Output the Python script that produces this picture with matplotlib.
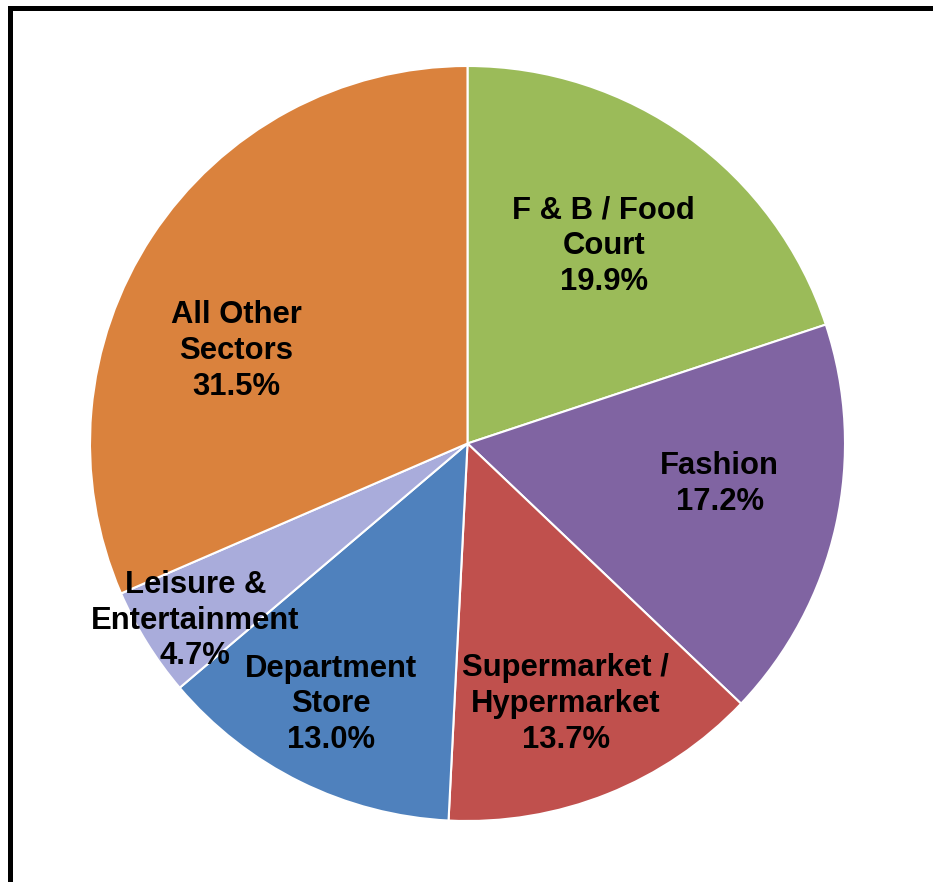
import numpy as np
import matplotlib
matplotlib.use("Agg")
import matplotlib.pyplot as plt
from matplotlib.patches import Rectangle

categories = ["F & B / Food\nCourt", "Fashion", "Supermarket /\nHypermarket",
              "Department\nStore", "Leisure &\nEntertainment", "All Other\nSectors"]
values = [19.9, 17.2, 13.7, 13.0, 4.7, 31.5]
colors = ["#9BBB59", "#8064A2", "#C0504D", "#4F81BD", "#A9ACDB", "#DA823D"]

# label placement (fraction of radius, angle offset in degrees)
label_dist = [0.635, 0.677, 0.737, 0.78, 0.86, 0.66]
label_dang = [1.2, 3.4, -1.1, -1.4, 1.2, 11.5]

W, H = 933, 882
fig = plt.figure(figsize=(W / 100, H / 100), dpi=100)
fig.patch.set_facecolor("white")

R_px = 377.5
cx, cy = 467.5, 443.5
ax = fig.add_axes([(cx - R_px) / W, (H - cy - R_px) / H, 2 * R_px / W, 2 * R_px / H])
wedges, _ = ax.pie(values, colors=colors, startangle=90, counterclock=False,
                   radius=1.0, wedgeprops=dict(edgecolor="white", linewidth=1.5))
ax.set_xlim(-1, 1)
ax.set_ylim(-1, 1)
ax.set_aspect("equal")
ax.axis("off")

for w, cat, v, d, da in zip(wedges, categories, values, label_dist, label_dang):
    ang = np.deg2rad((w.theta1 + w.theta2) / 2 + da)
    ax.text(d * np.cos(ang), d * np.sin(ang), f"{cat}\n{v:.1f}%",
            ha="center", va="center", fontsize=22.3, fontweight="bold",
            family="Liberation Sans", linespacing=1.25, color="black")

fig.add_artist(Rectangle((9.5 / W, -0.05), 1.2, (H - 7.5) / H + 0.05,
                         transform=fig.transFigure, fill=False,
                         edgecolor="black", linewidth=3.6))

fig.savefig("out.png", dpi=100, facecolor="white")
